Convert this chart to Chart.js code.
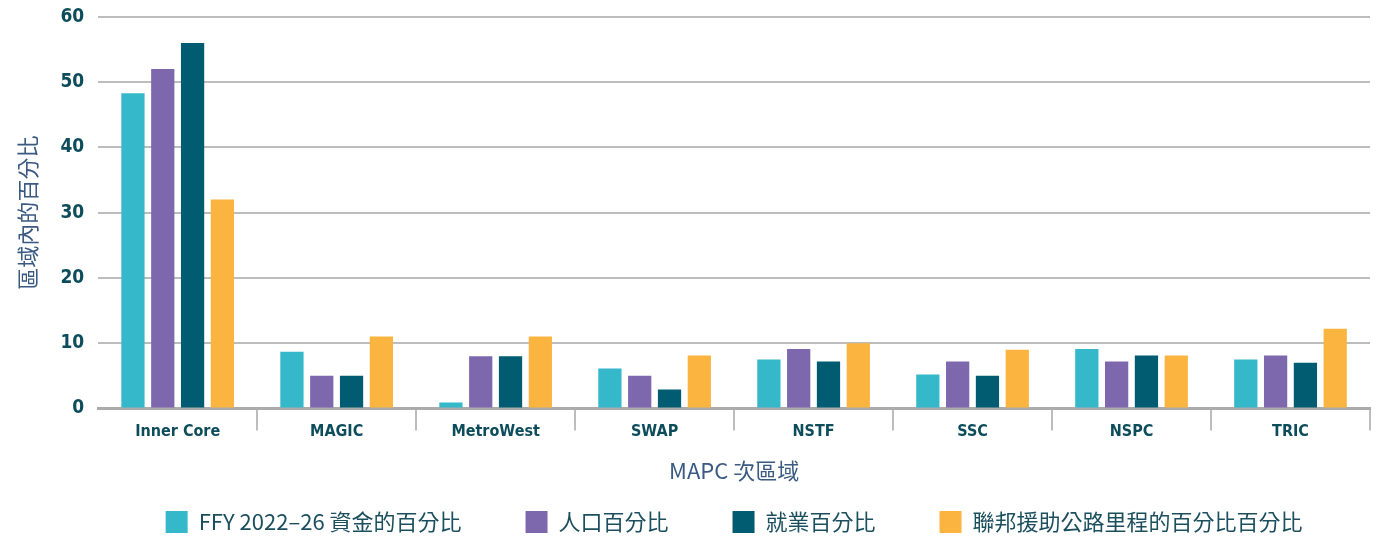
<!DOCTYPE html>
<html>
<head>
<meta charset="utf-8">
<script src="https://cdn.jsdelivr.net/npm/chart.js@4"></script>
<style>
  body { margin: 0; background: #fff; }
  #wrap { width: 1377px; height: 540px; }
</style>
</head>
<body>
<div id="wrap"><canvas id="shareChart"></canvas></div>
<script>
// Data
const regions = ['Inner Core', 'MAGIC', 'MetroWest', 'SWAP', 'NSTF', 'SSC', 'NSPC', 'TRIC'];
const fundingShare = [48.3, 8.7, 0.9, 6.1, 7.5, 5.2, 9.1, 7.5];
const populationShare = [52, 5, 8, 5, 9.1, 7.2, 7.2, 8.1];
const employmentShare = [56, 5, 8, 2.9, 7.2, 5, 8.1, 7];
const roadMileShare = [32, 11, 11, 8.1, 10, 9, 8.1, 12.2];
const seriesNames = ['FFY 2022–26 資金的百分比', '人口百分比', '就業百分比', '聯邦援助公路里程的百分比百分比'];
const seriesColors = ['#35B8CA', '#7E68AD', '#015C71', '#FBB43F'];

const tickFont = "'DejaVu Sans Condensed', 'Liberation Sans Narrow', sans-serif";
const cjkFont = "'Noto Sans CJK TC', 'Noto Sans', sans-serif";

const seriesData = [fundingShare, populationShare, employmentShare, roadMileShare];

new Chart(document.getElementById('shareChart').getContext('2d'), {
    type: 'bar',
    data: {
        labels: regions,
        datasets: seriesData.map((d, i) => ({
            label: seriesNames[i],
            data: d,
            backgroundColor: seriesColors[i],
            categoryPercentage: 0.75,
            barPercentage: 0.78
        }))
    },
    options: {
        responsive: true,
        maintainAspectRatio: false,
        animation: false,
        layout: { padding: { top: 15, right: 7, left: 10, bottom: -3 } },
        plugins: {
            tooltip: { enabled: false },
            legend: {
                position: 'bottom',
                fullSize: false,
                labels: {
                    boxWidth: 22,
                    boxHeight: 22,
                    padding: 64,
                    color: '#1B4F5E',
                    font: { family: cjkFont, size: 22 }
                }
            }
        },
        scales: {
            x: {
                grid: {
                    offset: true,
                    drawOnChartArea: false,
                    drawTicks: true,
                    tickLength: 22,
                    lineWidth: 2,
                    color: (ctx) => (ctx.index === 0 || ctx.index === regions.length) ? 'rgba(0,0,0,0)' : '#BDBDBD'
                },
                border: { color: '#ABABAB', width: 3 },
                ticks: {
                    padding: -8,
                    color: '#0D4D5B',
                    font: { family: tickFont, size: 16, weight: 'bold' }
                },
                title: {
                    display: true,
                    text: 'MAPC 次區域',
                    color: '#3A5A82',
                    padding: { top: 24, bottom: -37 },
                    font: { family: cjkFont, size: 22 }
                }
            },
            y: {
                min: 0,
                max: 60,
                ticks: {
                    stepSize: 10,
                    padding: 14,
                    color: '#0D4D5B',
                    font: { family: tickFont, size: 19, weight: 'bold', lineHeight: 0.3 }
                },
                grid: { drawTicks: false, color: '#BDBDBD', lineWidth: 2 },
                border: { display: false },
                title: {
                    display: true,
                    text: '區域內的百分比',
                    color: '#3A5A82',
                    padding: { bottom: 6 },
                    font: { family: cjkFont, size: 22 }
                }
            }
        }
    }
});
</script>
</body>
</html>
